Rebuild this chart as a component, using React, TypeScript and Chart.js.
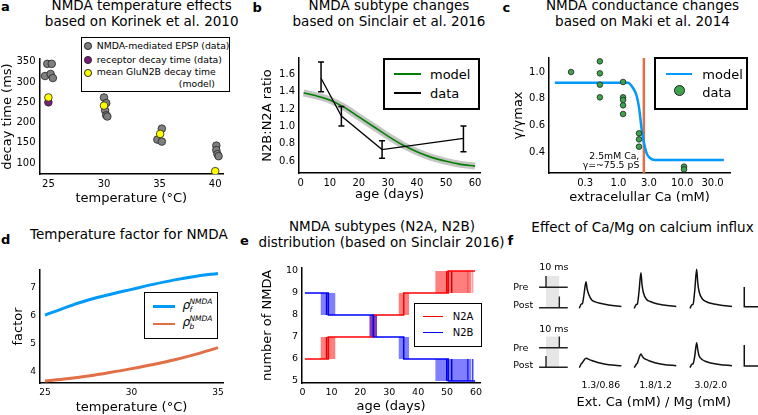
import React, { useEffect, useRef } from 'react';
import { Chart, registerables } from 'chart.js';
Chart.register(...registerables);

const FONT = "'DejaVu Sans', Verdana, sans-serif";

// ---------------- panel a ----------------
const aXTicks = [25, 30, 35, 40];
const aYTicks = [100, 150, 200, 250, 300, 350];
const aEpspTemp = [24.9, 25.3, 24.7, 25.2, 25.4, 30.0, 30.2, 30.1, 30.2, 30.3, 34.8, 35.2, 35.2, 40.1, 40.1, 40.2, 40.3];
const aEpspDecay = [345, 345, 315, 320, 310, 262, 248, 230, 218, 215, 158, 185, 153, 143, 132, 122, 117];
const aRecTemp = [25.0];
const aRecDecay = [250];
const aModelTemp = [25.0, 30.0, 35.05, 40.0];
const aModelDecay = [262, 242, 172, 80];

// ---------------- panel b ----------------
const bXTicks = [0, 10, 20, 30, 40, 50, 60];
const bYTicks = [0.6, 0.8, 1.0, 1.2, 1.4, 1.6];
const bModelAge = [1, 5, 10, 15, 20, 25, 30, 35, 40, 45, 50, 55, 60];
const bModelRatio = [1.385, 1.355, 1.305, 1.22, 1.11, 1.0, 0.89, 0.79, 0.71, 0.645, 0.6, 0.565, 0.545];
const bDataAge = [7, 14, 28, 56];
const bDataRatio = [1.554, 1.12, 0.735, 0.864];
const bDataLow = [1.4, 1.005, 0.635, 0.71];
const bDataHigh = [1.74, 1.23, 0.835, 1.005];

// ---------------- panel c ----------------
const cXTicks = [0.3, 1, 3, 10, 30];
const cYTicks = [0.4, 0.6, 0.8, 1.0];
const cDataCa = [0.18, 0.51, 0.51, 0.51, 0.51, 1.18, 1.18, 1.18, 1.18, 1.18, 2.1, 2.1, 2.1, 10.7, 10.7];
const cDataG = [1.0, 1.08, 0.99, 0.905, 0.81, 0.925, 0.81, 0.79, 0.75, 0.685, 0.54, 0.495, 0.44, 0.29, 0.27];
const cModelCa = [0.1, 1.41, 1.69, 1.93, 2.12, 2.31, 2.51, 2.77, 3.12, 3.74, 45];
const cModelG = [0.92, 0.92, 0.88, 0.82, 0.72, 0.57, 0.47, 0.39, 0.355, 0.34, 0.34];
const cRefCa = [2.5, 2.5];
const cRefG = [0.2425, 1.105];

// ---------------- panel d ----------------
const dXTicks = [25, 30, 35];
const dYTicks = [4, 5, 6, 7];
const dTemp = [25, 26.25, 27.5, 28.75, 30, 31.25, 32.5, 33.75, 35];
const dRhoF = [6.03, 6.32, 6.57, 6.77, 6.95, 7.13, 7.29, 7.42, 7.52];
const dRhoB = [3.68, 3.76, 3.855, 3.98, 4.12, 4.27, 4.44, 4.64, 4.87];

// ---------------- panel e ----------------
const eXTicks = [0, 10, 20, 30, 40, 50, 60];
const eYTicks = [5, 6, 7, 8, 9, 10];
const eStepAge = [0.8, 8.9, 24.5, 35, 50.4, 59.7];
const eN2A = [6, 7, 8, 9, 10, 10];
const eN2B = [9, 8, 7, 6, 5, 5];
const eBandFrom = [6.2, 23.1, 33.2, 45.9];
const eBandTo = [11.4, 25.8, 36.9, 58.5];
const eExtraSwitchAge = [8.3, 49.9, 51.6];
const eExtraSwitchIdx = [0, 3, 3];
const eFaintSwitchAge = [57.2, 58.9];
const eFaintSwitchIdx = [3, 3];

// ---------------- panel f ----------------
const fTraceT = [0, 1.5, 2.3, 3.5, 5, 5.8, 6.8, 9.3, 12, 15.5, 22, 31.5];
const fTopTraces = [
  [-1.8, 2.5, 2.8, 12, 24.8, 18, 13, 6.5, 4.6, 3.2, 1.6, 0],
  [-1.8, 2, 2.5, 14, 33.8, 22, 14, 7, 5, 3.2, 1.6, 0],
  [-1.8, 1.8, 2.2, 15, 37.2, 24, 15, 7.5, 5, 3.2, 1.5, 0],
];
const fBottomTraces = [
  [-2, 2, 3, 5.5, 7.4, 7.2, 6.6, 5.2, 4.0, 2.6, 1.0, 0],
  [-2, 1.5, 2.5, 7.5, 11.7, 10, 8, 6, 4.5, 3, 1.2, 0],
  [-2, 1.5, 2, 9, 23, 16, 10, 6, 4.2, 2.8, 1.2, 0],
];
const fOnset = [59.5, 100.7, 142.5];
const fBaseline = [67.5, 8.3];
const fSchemX = [29.3, 50.8];
const fPreSpike = [34.5, 44.5];
const fPostSpike = [44.5, 34.5];
const fPreLevel = [86.7, 26.3];
const fPostLevel = [66.3, 6.7];
const fSpikeH = 11.3;
const fWindow = [34.5, 44.5];
const fBarX = 183.2;
const fBarH = [19.7, 21];
const fCaMgLabels = ['1.3/0.86', '1.8/1.2', '3.0/2.0'];

// ---------------- helpers ----------------
const xy = (xs: number[], ys: number[]) => xs.map((x, i) => ({ x, y: ys[i] }));

const line = (xs: number[], ys: number[], color: string, width: number, extra: any = {}) => ({
  data: xy(xs, ys),
  showLine: true,
  borderColor: color,
  borderWidth: width,
  pointRadius: 0,
  fill: false,
  ...extra,
});

const pts = (xs: number[], ys: number[], color: string, r: number) => ({
  data: xy(xs, ys),
  showLine: false,
  pointRadius: r,
  backgroundColor: color,
  borderColor: '#222',
  borderWidth: 0.8,
});

function xAxis(o: any) {
  return {
    type: o.log ? 'logarithmic' : 'linear',
    position: 'bottom',
    min: o.min,
    max: o.max,
    grid: { display: false, drawTicks: false },
    border: { display: true, color: '#000', width: 1.5 },
    ticks: {
      font: { family: FONT, size: o.tickSize },
      color: '#000',
      padding: 4,
      maxRotation: 0,
      minRotation: 0,
      autoSkip: false,
      callback: (v: any) => o.fmt(Number(v)),
    },
    afterBuildTicks: (s: any) => {
      s.ticks = o.ticks.map((v: number) => ({ value: v }));
    },
    afterFit: (s: any) => {
      s.height = o.size;
    },
    title: {
      display: true,
      text: o.title,
      color: '#000',
      font: { family: FONT, size: 13 },
      padding: { top: 0, bottom: o.pad },
    },
  };
}

function yAxis(o: any) {
  return {
    type: 'linear',
    position: 'left',
    min: o.min,
    max: o.max,
    grid: { display: false, drawTicks: false },
    border: { display: true, color: '#000', width: 1.5 },
    ticks: {
      font: { family: FONT, size: o.tickSize },
      color: '#000',
      padding: 4,
      autoSkip: false,
      callback: (v: any) => o.fmt(Number(v)),
    },
    afterBuildTicks: (s: any) => {
      s.ticks = o.ticks.map((v: number) => ({ value: v }));
    },
    afterFit: (s: any) => {
      s.width = o.size;
    },
    title: {
      display: true,
      text: o.title,
      color: '#000',
      font: { family: FONT, size: 13 },
      padding: { top: o.pad, bottom: 0 },
    },
  };
}

function base(padding: any, scales: any) {
  return {
    responsive: false,
    animation: false,
    events: [],
    layout: { padding },
    plugins: { legend: { display: false }, tooltip: { enabled: false }, title: { display: false } },
    scales,
  };
}

const f1 = (v: number) => v.toFixed(1);
const f0 = (v: number) => String(Math.round(v));

// ---------------- configs ----------------
function makeA() {
  return {
    type: 'scatter',
    data: {
      datasets: [
        pts(aModelTemp, aModelDecay, '#ffff00', 3.8),
        pts(aRecTemp, aRecDecay, '#7a1f7a', 3.8),
        pts(aEpspTemp, aEpspDecay, '#808080', 3.8),
      ],
    },
    options: base({ left: 0, top: 14, right: 12, bottom: 0 }, {
      x: xAxis({ min: 24.2, max: 40.7, ticks: aXTicks, fmt: f0, title: 'temperature (°C)', size: 36, tickSize: 10, pad: 3.2 }),
      y: yAxis({ min: 73, max: 357, ticks: aYTicks, fmt: f0, title: 'decay time (ms)', size: 39.5, tickSize: 10, pad: 0 }),
    }),
  };
}

const errorBars = {
  id: 'errorBars',
  afterDatasetsDraw(chart: any) {
    const { ctx, scales } = chart;
    const x = scales.x;
    const y = scales.y;
    ctx.save();
    ctx.strokeStyle = '#000';
    ctx.lineWidth = 1.5;
    bDataAge.forEach((a, i) => {
      const px = x.getPixelForValue(a);
      const lo = y.getPixelForValue(bDataLow[i]);
      const hi = y.getPixelForValue(bDataHigh[i]);
      ctx.beginPath();
      ctx.moveTo(px, lo);
      ctx.lineTo(px, hi);
      ctx.moveTo(px - 3, lo);
      ctx.lineTo(px + 3, lo);
      ctx.moveTo(px - 3, hi);
      ctx.lineTo(px + 3, hi);
      ctx.stroke();
    });
    ctx.restore();
  },
};

function makeB() {
  return {
    type: 'scatter',
    data: {
      datasets: [
        line(bDataAge, bDataRatio, '#000', 1.3),
        line(bModelAge, bModelRatio, '#008000', 1.6, { cubicInterpolationMode: 'monotone' }),
        line(bModelAge, bModelRatio, 'rgba(150,150,150,0.55)', 7, { cubicInterpolationMode: 'monotone' }),
      ],
    },
    options: base({ left: 0, top: 13, right: 10, bottom: 0 }, {
      x: xAxis({ min: -0.585, max: 61.7, ticks: bXTicks, fmt: f0, title: 'age (days)', size: 37, tickSize: 10, pad: 7.2 }),
      y: yAxis({ min: 0.4655, max: 1.787, ticks: bYTicks, fmt: f1, title: 'N2B:N2A ratio', size: 49, tickSize: 10, pad: 10.2 }),
    }),
    plugins: [errorBars],
  };
}

function makeC() {
  const xa: any = xAxis({ log: true, min: 0.0811, max: 56.3, ticks: cXTicks, fmt: f1, title: 'extracelullar Ca (mM)', size: 37, tickSize: 10, pad: 4.2 });
  return {
    type: 'scatter',
    data: {
      datasets: [
        pts(cDataCa, cDataG, '#3da44d', 2.8),
        line(cModelCa, cModelG, '#009af9', 2.5, { cubicInterpolationMode: 'monotone' }),
        line(cRefCa, cRefG, '#e26f46', 2.5),
      ],
    },
    options: base({ left: 0, top: 13, right: 28, bottom: 0 }, {
      x: xa,
      y: yAxis({ min: 0.2425, max: 1.105, ticks: cYTicks, fmt: f1, title: 'γ/γmax', size: 49, tickSize: 10, pad: 11.2 }),
    }),
  };
}

function makeD() {
  return {
    type: 'scatter',
    data: {
      datasets: [
        line(dTemp, dRhoF, '#009af9', 3, { cubicInterpolationMode: 'monotone' }),
        line(dTemp, dRhoB, '#e26f46', 3, { cubicInterpolationMode: 'monotone' }),
      ],
    },
    options: base({ left: 0, top: 15, right: 12, bottom: 0 }, {
      x: xAxis({ min: 24.71, max: 35.29, ticks: dXTicks, fmt: f0, title: 'temperature (°C)', size: 32, tickSize: 9, pad: 0 }),
      y: yAxis({ min: 3.607, max: 7.643, ticks: dYTicks, fmt: f0, title: 'factor', size: 40, tickSize: 9, pad: 11.2 }),
    }),
  };
}

function makeE() {
  const ds: any[] = [];
  ds.push(line(eStepAge, eN2B, '#0000ff', 1.5, { stepped: 'before' }));
  ds.push(line(eStepAge, eN2A, '#ff0000', 1.5, { stepped: 'before' }));
  eExtraSwitchAge.forEach((a, i) => {
    const k = eExtraSwitchIdx[i];
    ds.push(line([a, a], [eN2A[k], eN2A[k + 1]], '#e00000', 1.5));
    ds.push(line([a, a], [eN2B[k], eN2B[k + 1]], '#0000e0', 1.5));
  });
  eFaintSwitchAge.forEach((a, i) => {
    const k = eFaintSwitchIdx[i];
    ds.push(line([a, a], [eN2A[k], eN2A[k + 1]], 'rgba(255,0,0,0.5)', 1));
    ds.push(line([a, a], [eN2B[k], eN2B[k + 1]], 'rgba(0,0,255,0.5)', 1));
  });
  eBandFrom.forEach((from, k) => {
    ds.push(line([from, eBandTo[k]], [eN2B[k + 1], eN2B[k + 1]], 'rgba(0,0,0,0)', 0, { fill: { value: eN2B[k] }, backgroundColor: 'rgba(0,0,255,0.5)' }));
    ds.push(line([from, eBandTo[k]], [eN2A[k + 1], eN2A[k + 1]], 'rgba(0,0,0,0)', 0, { fill: { value: eN2A[k] }, backgroundColor: 'rgba(255,0,0,0.5)' }));
  });
  return {
    type: 'scatter',
    data: { datasets: ds },
    options: base({ left: 0, top: 13, right: 10, bottom: 0 }, {
      x: xAxis({ min: -0.2, max: 61.4, ticks: eXTicks, fmt: f0, title: 'age (days)', size: 32, tickSize: 9.5, pad: 0.5 }),
      y: yAxis({ min: 4.909, max: 10.136, ticks: eYTicks, fmt: f0, title: 'number of NMDA', size: 52, tickSize: 9.5, pad: 10.2 }),
    }),
  };
}

function makeF() {
  const ds: any[] = [];
  [fTopTraces, fBottomTraces].forEach((row, r) => {
    row.forEach((trace, c) => {
      ds.push(line(fTraceT.map((t) => t + fOnset[c]), trace.map((v) => v + fBaseline[r]), '#111', 1.5, { cubicInterpolationMode: 'monotone' }));
    });
    const bx = fBarX;
    const b0 = fBaseline[r] - 0.2;
    ds.push(line([bx, bx, 200], [b0 + fBarH[r], b0, b0], '#111', 1.5));
    const pre = fPreLevel[r];
    const post = fPostLevel[r];
    ds.push(line([fSchemX[0], fPreSpike[r], fPreSpike[r], fPreSpike[r], fSchemX[1]], [pre, pre, pre + fSpikeH, pre, pre], '#222', 1.4));
    ds.push(line([fSchemX[0], fPostSpike[r], fPostSpike[r], fPostSpike[r], fSchemX[1]], [post, post, post + fSpikeH, post, post], '#222', 1.4));
    ds.push(line(fWindow, [pre + fSpikeH, pre + fSpikeH], 'rgba(0,0,0,0)', 0, { fill: { value: post }, backgroundColor: '#e6e6e6' }));
  });
  return {
    type: 'scatter',
    data: { datasets: ds },
    options: {
      ...base({ left: 0, top: 0, right: 0, bottom: 0 }, {
        x: { type: 'linear', display: false, min: 0, max: 193.5 },
        y: { type: 'linear', display: false, min: 0, max: 112 },
      }),
    },
  };
}

// ---------------- components ----------------
function ChartBox({ left, top, width, height, make }: any) {
  const ref = useRef<HTMLCanvasElement>(null);
  useEffect(() => {
    const chart = new Chart(ref.current as HTMLCanvasElement, make());
    return () => chart.destroy();
  }, []);
  return (
    <canvas
      ref={ref}
      width={width}
      height={height}
      style={{ position: 'absolute', left, top, width, height }}
    />
  );
}

function T({ x, y, size = 13.5, align = 'left', bold = false, italic = false, children }: any) {
  const tx = align === 'center' ? '-50%' : align === 'right' ? '-100%' : '0';
  return (
    <div
      style={{
        position: 'absolute',
        left: x,
        top: y - 0.846 * size,
        fontSize: size,
        lineHeight: `${size}px`,
        fontFamily: FONT,
        fontWeight: bold ? 'bold' : 'normal',
        fontStyle: italic ? 'italic' : 'normal',
        whiteSpace: 'nowrap',
        transform: `translateX(${tx})`,
        color: '#000',
      }}
    >
      {children}
    </div>
  );
}

function Box({ l, t, r, b, w = 1.5 }: any) {
  return (
    <div
      style={{
        position: 'absolute',
        left: l,
        top: t,
        width: r - l,
        height: b - t,
        border: `${w}px solid #000`,
        boxSizing: 'border-box',
        background: '#fff',
      }}
    />
  );
}

function HLine({ x1, x2, y, w, color }: any) {
  return <div style={{ position: 'absolute', left: x1, top: y - w / 2, width: x2 - x1, height: w, background: color }} />;
}

function Dot({ cx, cy, r, color }: any) {
  return (
    <div
      style={{
        position: 'absolute',
        left: cx - r,
        top: cy - r,
        width: 2 * r,
        height: 2 * r,
        borderRadius: '50%',
        background: color,
        border: '0.8px solid #222',
        boxSizing: 'border-box',
      }}
    />
  );
}

export default function App() {
  return (
    <div style={{ position: 'fixed', left: 0, top: 0, width: 758, height: 415, background: '#fff', overflow: 'hidden' }}>
      <ChartBox left={0} top={45} width={235} height={165} make={makeA} />
      <ChartBox left={250} top={45} width={240} height={165} make={makeB} />
      <ChartBox left={500} top={45} width={258} height={165} make={makeC} />
      <ChartBox left={0} top={255} width={235} height={160} make={makeD} />
      <ChartBox left={250} top={255} width={240} height={160} make={makeE} />
      <ChartBox left={500} top={262} width={258} height={112} make={makeF} />

      <T x={1} y={11} size={13} bold>a</T>
      <T x={252.5} y={11.7} size={13} bold>b</T>
      <T x={502.5} y={11.5} size={13} bold>c</T>
      <T x={1} y={244} size={13} bold>d</T>
      <T x={240} y={245} size={13} bold>e</T>
      <T x={507.5} y={245} size={13} bold>f</T>

      <T x={141.7} y={10.9} align="center">NMDA temperature effects</T>
      <T x={141.7} y={26.6} align="center">based on Korinek et al. 2010</T>
      <T x={389} y={10.9} align="center">NMDA subtype changes</T>
      <T x={389} y={26.6} align="center">based on Sinclair et al. 2016</T>
      <T x={642.5} y={10.9} align="center">NMDA conductance changes</T>
      <T x={642.5} y={26.6} align="center">based on Maki et al. 2014</T>
      <T x={128.8} y={239.2} align="center">Temperature factor for NMDA</T>
      <T x={382} y={231.6} align="center">NMDA subtypes (N2A, N2B)</T>
      <T x={381.5} y={247.6} align="center">distribution (based on Sinclair 2016)</T>
      <T x={642.5} y={232.6} align="center">Effect of Ca/Mg on calcium influx</T>

      <Box l={81} t={37} r={230} b={92} w={1.5} />
      <Dot cx={88.3} cy={46} r={3.9} color="#808080" />
      <Dot cx={88.3} cy={60} r={3.9} color="#7a1f7a" />
      <Dot cx={88.3} cy={72.7} r={3.9} color="#ffff00" />
      <T x={96.7} y={48.5} size={9.3}>NMDA-mediated EPSP (data)</T>
      <T x={96.7} y={63} size={9.3}>receptor decay time (data)</T>
      <T x={96.7} y={75.2} size={9.3}>mean GluN2B decay time</T>
      <T x={215} y={87} size={9.3} align="right">(model)</T>

      <Box l={383} t={58} r={480} b={110} w={2} />
      <HLine x1={394} x2={420.7} y={74} w={2} color="#008000" />
      <HLine x1={394} x2={420.7} y={93.3} w={2} color="#000" />
      <T x={430} y={79} size={13}>model</T>
      <T x={430} y={97.5} size={13}>data</T>

      <Box l={654} t={57} r={748} b={110} w={2} />
      <HLine x1={666} x2={691.7} y={74} w={2.5} color="#009af9" />
      <Dot cx={679} cy={90.7} r={5.5} color="#3da44d" />
      <T x={702.3} y={79} size={13}>model</T>
      <T x={702.3} y={97} size={13}>data</T>
      <T x={639.3} y={158.5} size={9.3} align="right">2.5mM Ca,</T>
      <T x={639.3} y={168} size={9.3} align="right">γ=~75.5 pS</T>

      <Box l={144} t={292} r={218} b={339} w={1.5} />
      <HLine x1={153} x2={175} y={306.7} w={2.5} color="#009af9" />
      <HLine x1={153} x2={175} y={324} w={2.5} color="#e26f46" />
      <T x={182.5} y={309} size={12} italic>ρ</T>
      <T x={189.5} y={304.5} size={7.5} italic>NMDA</T>
      <T x={189.5} y={312.5} size={7.5} italic>f</T>
      <T x={182.5} y={326.3} size={12} italic>ρ</T>
      <T x={189.5} y={321.8} size={7.5} italic>NMDA</T>
      <T x={189.5} y={329.8} size={7.5} italic>b</T>

      <Box l={414} t={303} r={482} b={347} w={1.5} />
      <HLine x1={422.7} x2={443.3} y={316.7} w={1.5} color="#ff0000" />
      <HLine x1={422.7} x2={443.3} y={332.3} w={1.5} color="#0000ff" />
      <T x={452.7} y={320.5} size={10}>N2A</T>
      <T x={452.7} y={336} size={10}>N2B</T>

      <T x={553.8} y={270} size={9.5} align="center">10 ms</T>
      <T x={553.8} y={331.7} size={9.5} align="center">10 ms</T>
      <T x={513.3} y={290} size={9.5}>Pre</T>
      <T x={513.3} y={308.3} size={9.5}>Post</T>
      <T x={513.3} y={350.7} size={9.5}>Pre</T>
      <T x={513.3} y={368.3} size={9.5}>Post</T>
      <T x={600.8} y={388.3} size={9.3} align="center">{fCaMgLabels[0]}</T>
      <T x={655.5} y={388.3} size={9.3} align="center">{fCaMgLabels[1]}</T>
      <T x={710.8} y={388.3} size={9.3} align="center">{fCaMgLabels[2]}</T>
      <T x={653.8} y={405.5} size={13} align="center">Ext. Ca (mM) / Mg (mM)</T>
    </div>
  );
}
